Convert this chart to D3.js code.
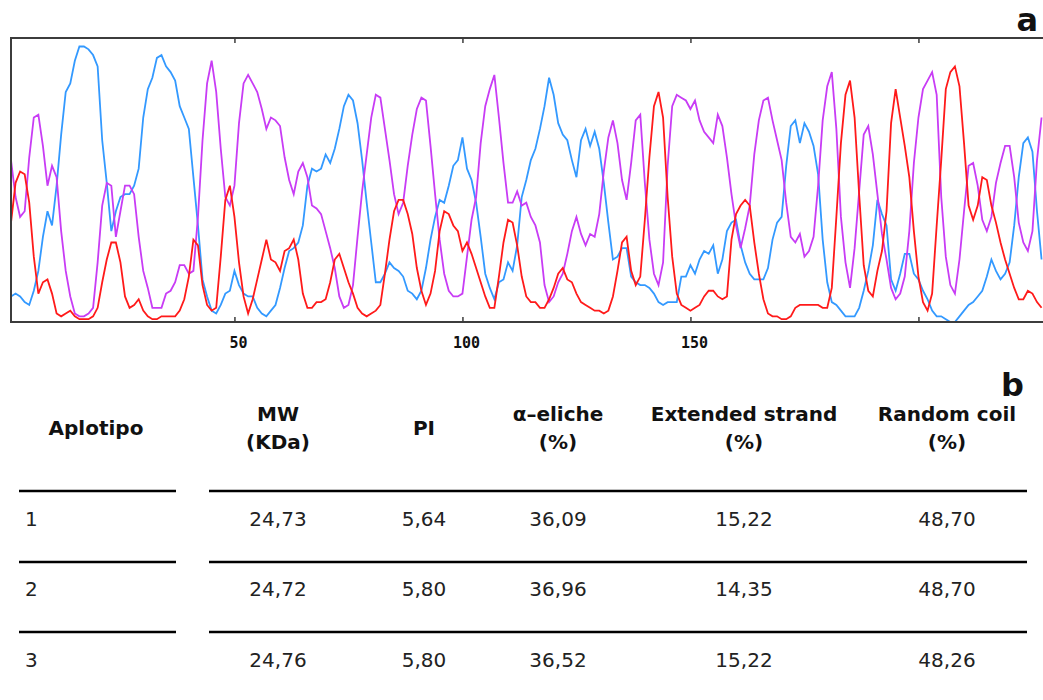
<!DOCTYPE html>
<html lang="it">
<head>
<meta charset="UTF-8">
<title>Struttura secondaria predetta</title>
<script src="https://d3js.org/d3.v7.min.js"></script>
<style>
  body { margin: 0; background: #fff; }
  svg { display: block; }
  .tick-label { font-family: "DejaVu Sans Mono", monospace; font-size: 15px; font-weight: bold; fill: #111; }
  .panel { font-family: "DejaVu Sans", Verdana, sans-serif; font-weight: bold; font-size: 32px; fill: #111; }
  .hdr { font-family: "DejaVu Sans", Verdana, sans-serif; font-weight: bold; font-size: 20px; fill: #111; }
  .val { font-family: "DejaVu Sans", Verdana, sans-serif; font-size: 20px; fill: #222; }
</style>
</head>
<body>
<svg id="chart"></svg>
<script>
// per-residue probabilities (residue 1..227)
const helix = [
  0.09,0.10,0.09,0.07,0.06,0.11,0.18,0.30,0.39,0.34,
  0.48,0.66,0.81,0.84,0.92,0.97,0.97,0.96,0.94,0.90,
  0.64,0.49,0.32,0.39,0.44,0.45,0.45,0.48,0.54,0.72,
  0.82,0.86,0.93,0.94,0.90,0.88,0.85,0.76,0.72,0.68,
  0.51,0.34,0.15,0.09,0.04,0.03,0.06,0.10,0.11,0.18,
  0.13,0.10,0.09,0.09,0.05,0.03,0.02,0.04,0.06,0.12,
  0.19,0.25,0.26,0.28,0.34,0.48,0.54,0.53,0.54,0.59,
  0.56,0.61,0.68,0.76,0.80,0.78,0.70,0.57,0.42,0.28,
  0.14,0.14,0.17,0.21,0.19,0.18,0.16,0.11,0.10,0.08,
  0.11,0.19,0.29,0.37,0.43,0.42,0.48,0.55,0.57,0.65,
  0.54,0.50,0.42,0.30,0.17,0.12,0.08,0.14,0.15,0.21,
  0.18,0.27,0.44,0.50,0.57,0.61,0.68,0.76,0.86,0.80,
  0.70,0.66,0.64,0.57,0.51,0.64,0.68,0.62,0.67,0.61,
  0.49,0.35,0.22,0.23,0.26,0.26,0.16,0.14,0.13,0.13,
  0.12,0.10,0.07,0.06,0.07,0.07,0.07,0.16,0.16,0.20,
  0.17,0.22,0.25,0.24,0.27,0.17,0.22,0.32,0.35,0.36,
  0.27,0.21,0.17,0.15,0.15,0.15,0.19,0.29,0.35,0.37,
  0.55,0.69,0.71,0.63,0.70,0.67,0.62,0.52,0.29,0.14,
  0.07,0.06,0.04,0.02,0.02,0.02,0.05,0.11,0.18,0.27,
  0.43,0.38,0.34,0.15,0.11,0.17,0.24,0.24,0.17,0.15,
  0.11,0.08,0.04,0.02,0.02,0.01,0.00,0.00,0.02,0.04,
  0.06,0.07,0.09,0.11,0.16,0.22,0.18,0.15,0.17,0.21,
  0.34,0.51,0.63,0.65,0.60,0.39,0.22
];
const coil = [
  0.57,0.44,0.37,0.39,0.58,0.72,0.73,0.62,0.48,0.55,
  0.51,0.32,0.18,0.09,0.03,0.02,0.02,0.03,0.05,0.21,
  0.41,0.49,0.48,0.30,0.39,0.48,0.48,0.45,0.30,0.18,
  0.12,0.05,0.05,0.05,0.10,0.11,0.14,0.20,0.20,0.17,
  0.18,0.37,0.64,0.84,0.92,0.81,0.61,0.44,0.41,0.48,
  0.70,0.84,0.87,0.84,0.81,0.75,0.68,0.72,0.71,0.69,
  0.58,0.50,0.45,0.53,0.56,0.51,0.41,0.40,0.38,0.32,
  0.26,0.19,0.09,0.05,0.06,0.13,0.30,0.46,0.59,0.72,
  0.80,0.79,0.68,0.57,0.45,0.38,0.42,0.55,0.66,0.75,
  0.79,0.78,0.62,0.45,0.29,0.17,0.11,0.09,0.09,0.10,
  0.23,0.36,0.44,0.63,0.76,0.82,0.87,0.72,0.56,0.42,
  0.42,0.46,0.41,0.42,0.37,0.34,0.28,0.13,0.07,0.09,
  0.14,0.17,0.24,0.32,0.37,0.31,0.27,0.31,0.30,0.38,
  0.53,0.65,0.71,0.63,0.50,0.43,0.56,0.71,0.73,0.49,
  0.29,0.17,0.13,0.21,0.55,0.76,0.80,0.79,0.78,0.75,
  0.78,0.71,0.67,0.65,0.63,0.73,0.69,0.58,0.45,0.34,
  0.26,0.33,0.41,0.59,0.71,0.78,0.79,0.71,0.64,0.57,
  0.42,0.30,0.28,0.31,0.23,0.25,0.30,0.48,0.71,0.83,
  0.88,0.68,0.37,0.21,0.12,0.26,0.46,0.66,0.69,0.59,
  0.45,0.31,0.22,0.12,0.08,0.10,0.16,0.32,0.56,0.72,
  0.82,0.85,0.88,0.80,0.44,0.23,0.13,0.10,0.22,0.39,
  0.55,0.56,0.48,0.36,0.32,0.37,0.49,0.56,0.62,0.62,
  0.51,0.35,0.28,0.25,0.32,0.57,0.72
];
const strand = [
  0.35,0.49,0.53,0.52,0.42,0.23,0.10,0.14,0.15,0.10,
  0.03,0.02,0.03,0.04,0.02,0.01,0.01,0.01,0.02,0.05,
  0.14,0.22,0.28,0.28,0.21,0.09,0.05,0.06,0.08,0.04,
  0.02,0.01,0.01,0.02,0.02,0.02,0.02,0.04,0.08,0.16,
  0.29,0.27,0.13,0.06,0.04,0.05,0.23,0.43,0.48,0.37,
  0.21,0.09,0.03,0.08,0.15,0.22,0.29,0.22,0.21,0.18,
  0.25,0.26,0.29,0.22,0.10,0.05,0.05,0.07,0.07,0.08,
  0.14,0.22,0.24,0.19,0.14,0.10,0.05,0.03,0.02,0.03,
  0.04,0.06,0.17,0.29,0.39,0.43,0.43,0.38,0.31,0.19,
  0.11,0.06,0.10,0.18,0.32,0.39,0.38,0.34,0.32,0.25,
  0.28,0.24,0.19,0.14,0.09,0.05,0.05,0.16,0.28,0.36,
  0.35,0.27,0.16,0.09,0.07,0.07,0.05,0.05,0.08,0.12,
  0.17,0.19,0.15,0.14,0.10,0.07,0.06,0.05,0.04,0.04,
  0.03,0.04,0.09,0.18,0.28,0.30,0.18,0.13,0.16,0.36,
  0.58,0.76,0.81,0.72,0.44,0.23,0.10,0.06,0.05,0.04,
  0.05,0.06,0.09,0.11,0.11,0.09,0.08,0.09,0.29,0.38,
  0.41,0.43,0.41,0.28,0.17,0.08,0.03,0.02,0.02,0.01,
  0.01,0.02,0.05,0.06,0.06,0.06,0.06,0.06,0.05,0.05,
  0.12,0.37,0.63,0.80,0.85,0.72,0.45,0.20,0.11,0.09,
  0.18,0.25,0.39,0.70,0.82,0.72,0.62,0.51,0.32,0.16,
  0.07,0.04,0.10,0.34,0.57,0.82,0.88,0.90,0.83,0.63,
  0.41,0.36,0.41,0.51,0.50,0.41,0.35,0.28,0.22,0.17,
  0.12,0.08,0.08,0.11,0.10,0.07,0.05
];
const xTicks = [50, 100, 150, 200];
const xTickLabels = ["50", "100", "150", ""];

// table b
const headers = [
  ["Aplotipo"], ["MW", "(KDa)"], ["PI"], ["α–eliche", "(%)"],
  ["Extended strand", "(%)"], ["Random coil", "(%)"]
];
const aplotipo = ["1", "2", "3"];
const mw = ["24,73", "24,72", "24,76"];
const pi = ["5,64", "5,80", "5,80"];
const eliche = ["36,09", "36,96", "36,52"];
const extStrand = ["15,22", "14,35", "15,22"];
const randomCoil = ["48,70", "48,70", "48,26"];

const width = 1043, height = 700;
const plot = {left: 11, top: 38, bottom: 322};

const svg = d3.select("#chart").attr("width", width).attr("height", height);

const x = d3.scaleLinear().domain([1, 230]).range([plot.left, plot.left + 229 * 4.56]);
const y = d3.scaleLinear().domain([0, 1]).range([plot.bottom, plot.top]);

svg.append("clipPath").attr("id", "clip")
   .append("rect")
   .attr("x", plot.left).attr("y", plot.top)
   .attr("width", x(230) - plot.left).attr("height", plot.bottom - plot.top);

const line = d3.line().x((d, i) => x(i + 1)).y(d => y(d));

const series = [
  {vals: helix, color: "#3399ff"},
  {vals: coil, color: "#c83cf5"},
  {vals: strand, color: "#ff1a1a"}
];

const g = svg.append("g").attr("clip-path", "url(#clip)");
series.forEach(s => {
  g.append("path")
   .datum(s.vals)
   .attr("fill", "none")
   .attr("stroke", s.color)
   .attr("stroke-width", 1.8)
   .attr("d", line);
});

// frame
svg.append("rect")
   .attr("x", plot.left).attr("y", plot.top)
   .attr("width", x(230) - plot.left).attr("height", plot.bottom - plot.top)
   .attr("fill", "none").attr("stroke", "#3c3c3c").attr("stroke-width", 2);

// inward ticks top and bottom
svg.append("g")
   .attr("transform", `translate(0,${plot.bottom})`)
   .call(d3.axisTop(x).tickValues(xTicks).tickSize(5).tickFormat(""))
   .call(a => a.select(".domain").remove())
   .selectAll("line").attr("stroke", "#3c3c3c").attr("stroke-width", 1.5);

svg.append("g")
   .attr("transform", `translate(0,${plot.top})`)
   .call(d3.axisBottom(x).tickValues(xTicks).tickSize(5).tickFormat(""))
   .call(a => a.select(".domain").remove())
   .selectAll("line").attr("stroke", "#3c3c3c").attr("stroke-width", 1.5);

svg.selectAll(".tick-label")
   .data(xTicks)
   .enter()
   .append("text")
   .attr("class", "tick-label")
   .attr("x", d => x(d) + 4)
   .attr("y", 348)
   .attr("text-anchor", "middle")
   .text((d, i) => xTickLabels[i]);

// panel letters
svg.append("text").attr("class", "panel").attr("x", 1038).attr("y", 31).attr("text-anchor", "end").text("a");
svg.append("text").attr("class", "panel").attr("x", 1024).attr("y", 396).attr("text-anchor", "end").text("b");

// table
const colX = [96, 278, 424, 558, 744, 947];
headers.forEach((h, i) => {
  const lines = h.length === 1 ? [435] : [421, 449];
  h.forEach((t, j) => {
    svg.append("text").attr("class", "hdr")
       .attr("x", colX[i]).attr("y", lines[j])
       .attr("text-anchor", "middle").text(t);
  });
});

const rowY = [526, 596, 667];
const ruleY = [491, 562, 632];
ruleY.forEach(yy => {
  svg.append("line").attr("x1", 19).attr("x2", 176).attr("y1", yy).attr("y2", yy)
     .attr("stroke", "#000").attr("stroke-width", 2.5);
  svg.append("line").attr("x1", 209).attr("x2", 1027).attr("y1", yy).attr("y2", yy)
     .attr("stroke", "#000").attr("stroke-width", 2.5);
});

const cols = [mw, pi, eliche, extStrand, randomCoil];
aplotipo.forEach((a, r) => {
  svg.append("text").attr("class", "val").attr("x", 25).attr("y", rowY[r]).text(a);
  cols.forEach((c, k) => {
    svg.append("text").attr("class", "val")
       .attr("x", colX[k + 1]).attr("y", rowY[r])
       .attr("text-anchor", "middle").text(c[r]);
  });
});
</script>
</body>
</html>
